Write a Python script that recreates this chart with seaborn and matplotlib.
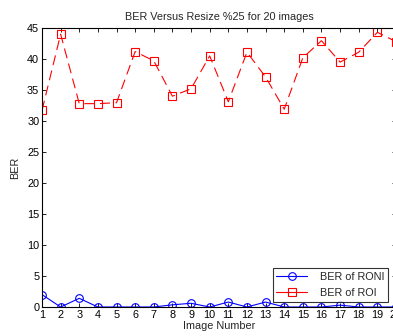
import matplotlib
matplotlib.use("Agg")
import matplotlib.pyplot as plt
import seaborn as sns
import pandas as pd

images = list(range(1, 21))
ber_roni = [2.0, 0, 1.4, 0, 0, 0, 0, 0.35, 0.6, 0, 0.8, 0, 0.8, 0, 0, 0, 0.3, 0, 0, 0]
ber_roi = [31.7, 44.0, 32.8, 32.8, 32.95, 41.2, 39.7, 34.0, 35.2, 40.5,
           33.1, 41.1, 37.1, 31.9, 40.2, 42.95, 39.5, 41.1, 44.3, 42.8]
labels = ["BER of RONI", "BER of ROI"]

sns.set_style("ticks")
plt.rcParams['font.family'] = ['Liberation Sans', 'DejaVu Sans']

fs = 7.8
fig = plt.figure(figsize=(3.93, 3.36), dpi=100)
ax = fig.add_axes([42 / 393, 1 - 307 / 336, (396 - 42) / 393, (307 - 28) / 336])

df = pd.DataFrame({"img": images, "roni": ber_roni, "roi": ber_roi})
sns.lineplot(data=df, x="img", y="roni", ax=ax, color="#0000ff", marker="o",
             markersize=5.5, mfc="none", mec="#0000ff", mew=0.8, linewidth=0.8,
             label=labels[0])
sns.lineplot(data=df, x="img", y="roi", ax=ax, color="#ff0000", marker="s",
             markersize=6, mfc="none", mec="#ff0000", mew=0.8, linewidth=0.8,
             label=labels[1])
ax.lines[1].set_dashes([9, 5])

ax.set_xlim(1, 20)
ax.set_ylim(0, 45)
ax.set_xticks(images)
ax.set_yticks(range(0, 46, 5))
ax.tick_params(direction="in", length=3, width=0.6, labelsize=fs, pad=2,
               top=True, right=True, colors="black")
for s in ax.spines.values():
    s.set_visible(True)
    s.set_linewidth(0.8)
    s.set_color("black")
ax.set_xlabel("Image Number", fontsize=fs, labelpad=1)
ax.set_ylabel("BER", fontsize=fs, labelpad=5)
ax.set_title("BER Versus Resize %25 for 20 images", fontsize=fs, pad=6)

leg = ax.legend(loc="lower right", bbox_to_anchor=(388 / 393, 1 - 302 / 336),
                bbox_transform=fig.transFigure, fontsize=fs, frameon=True,
                fancybox=False, edgecolor="black", borderpad=0.35,
                borderaxespad=0, handlelength=2.8, handletextpad=1.2,
                labelspacing=0.55)
leg.get_frame().set_linewidth(0.8)
for h in leg.get_lines():
    h.set_linestyle("-")

fig.savefig("out.png", dpi=100)
